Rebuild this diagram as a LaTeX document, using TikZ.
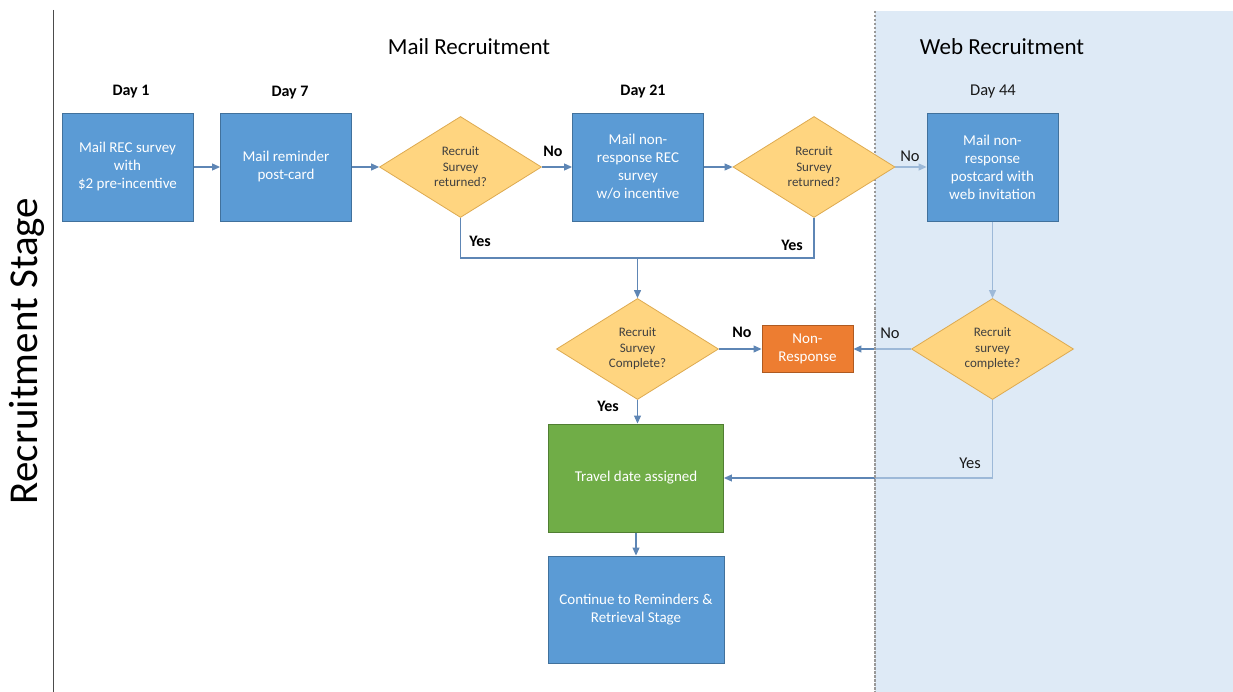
\documentclass[tikz,border=0pt]{standalone}
\usepackage{fontspec}
\setmainfont{Carlito}
\usetikzlibrary{shapes.geometric,arrows.meta}
\pgfdeclarelayer{lines}
\pgfdeclarelayer{webbg}
\pgfsetlayers{lines,webbg,main}
\definecolor{boxblue}{HTML}{5B9BD5}
\definecolor{boxedge}{HTML}{41719C}
\definecolor{dfill}{HTML}{FFD580}
\definecolor{dedge}{HTML}{DDAA50}
\definecolor{lineblue}{HTML}{5E86B5}
\definecolor{webtint}{HTML}{C8DCF0}
\definecolor{tgreen}{HTML}{70AD47}
\definecolor{tgreenedge}{HTML}{507E32}
\definecolor{torange}{HTML}{ED7D31}
\definecolor{torangeedge}{HTML}{AE5A21}
\definecolor{dtext}{HTML}{404040}
\tikzset{
  box/.style={draw=boxedge, fill=boxblue, text=white, line width=0.9pt,
    font=\fontsize{15}{18}\selectfont, align=center, inner sep=2pt,
    minimum width=131, minimum height=108},
  dec/.style={diamond, draw=dedge, fill=dfill, text=dtext, line width=0.8pt,
    font=\fontsize{13}{15.5}\selectfont, align=center, inner sep=0pt, aspect=1.6,
    minimum width=162, minimum height=101},
  conn/.style={draw=lineblue, line width=1.1pt},
  arr/.style={conn, -{Triangle[length=8pt,width=7pt]}},
  lbl/.style={font=\fontsize{16}{19}\selectfont\bfseries, text=black, inner sep=0pt},
  wlbl/.style={font=\fontsize{16.5}{19}\selectfont, text=black!90, inner sep=0pt},
  title/.style={font=\fontsize{23}{27}\selectfont, text=black, inner sep=0pt},
}
\begin{document}
\begin{tikzpicture}[x=1pt,y=-1pt]
\useasboundingbox (0,0) rectangle (1233,692);
\begin{pgfonlayer}{lines}
  \fill[white] (0,0) rectangle (1233,692);
\end{pgfonlayer}
\begin{pgfonlayer}{webbg}
  \fill[webtint, fill opacity=0.6] (875,11) rectangle (1233,692);
\end{pgfonlayer}
\draw[gray!80, line width=1.4pt, dash pattern=on 2.5pt off 1.5pt] (875,11) -- (875,692);
\draw[black!70, line width=0.8pt] (53,10) -- (53,692);
\node[rotate=90, font=\fontsize{41}{46}\selectfont, inner sep=0pt] (stage) at (27,351) {Recruitment Stage};

\node[title] (mailt) at (469,47) {Mail Recruitment};
\node[title] (webt) at (1002,47) {Web Recruitment};
\node[lbl] (day1) at (131,92) {Day 1};
\node[lbl] (day7) at (290,93) {Day 7};
\node[lbl] (day21) at (643,92) {Day 21};
\node[wlbl] (day44) at (993,92) {Day 44};

\node[box] (b1) at (127.5,167) {Mail REC survey\\with\\\$2 pre-incentive};
\node[box] (b2) at (286,167) {Mail reminder\\post-card};
\node[dec] (d1) at (460.5,167) {Recruit\\Survey\\returned?};
\node[box] (b3) at (638,167) {Mail non-\\response REC\\survey\\w/o incentive};
\node[dec] (d2) at (814,167) {Recruit\\Survey\\returned?};
\node[box] (b4) at (992.5,167) {Mail non-\\response\\postcard with\\web invitation};
\node[dec] (d3) at (637.5,349) {Recruit\\Survey\\Complete?};
\node[box, fill=torange, draw=torangeedge, minimum width=91, minimum height=47] (nr) at (807.5,349) {Non-\\Response};
\node[dec] (d4) at (992.5,349) {Recruit\\survey\\complete?};
\node[box, fill=tgreen, draw=tgreenedge, minimum width=175, minimum height=108] (tr) at (636,478) {Travel date assigned};
\node[box, minimum width=176, minimum height=107] (cont) at (636,609.5) {Continue to Reminders \&\\Retrieval Stage};
\coordinate (j) at (637.5,258);

\begin{pgfonlayer}{lines}
  \draw[arr] (b1) -- (b2);
  \draw[arr] (b2) -- (d1);
  \draw[arr] (d1) -- (b3);
  \draw[arr] (b3) -- (d2);
  \draw[arr] (d2) -- (b4);
  \draw[conn] (d1.south) |- (j) -| (d2.south);
  \draw[arr] (j) -- (d3.north);
  \draw[arr] (d3) -- (nr);
  \draw[arr] (d4) -- (nr);
  \draw[arr] (d3.south) -- (d3.south |- tr.north);
  \draw[arr] (tr) -- (cont);
  \draw[arr] (b4) -- (d4);
  \draw[arr] (d4.south) |- (tr.east);
\end{pgfonlayer}

\node[lbl] (no1) at (553,151) {No};
\node[lbl] (yes1) at (480,241) {Yes};
\node[lbl] (yes2) at (792,245) {Yes};
\node[wlbl] (no2) at (910,156) {No};
\node[lbl] (no3) at (742,332) {No};
\node[wlbl] (no4) at (890,333) {No};
\node[lbl] (yes3) at (608,406) {Yes};
\node[wlbl] (yes4) at (970,463) {Yes};
\end{tikzpicture}
\end{document}
